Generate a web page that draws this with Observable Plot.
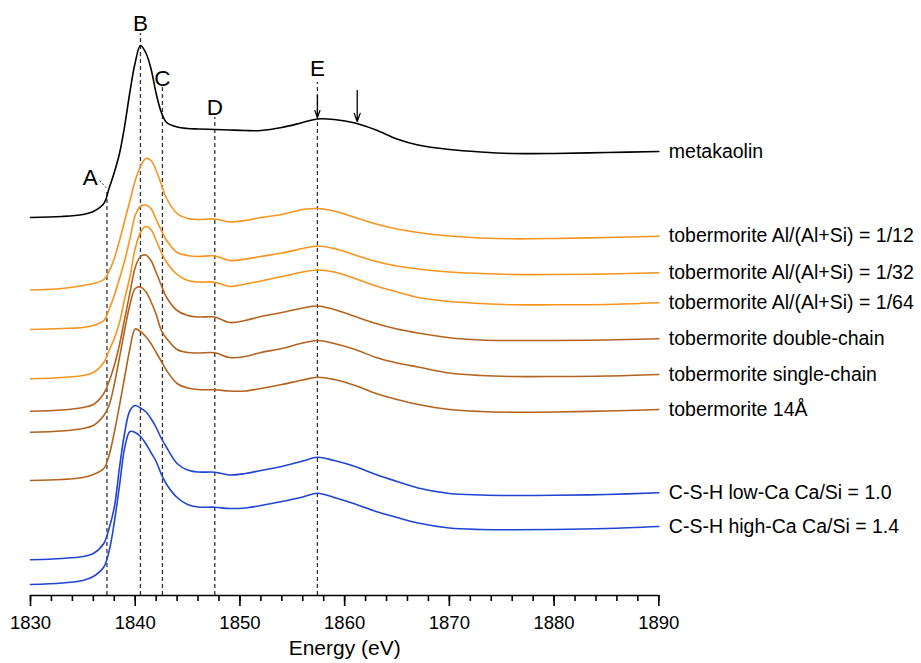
<!DOCTYPE html>
<html>
<head>
<meta charset="utf-8">
<script src="https://cdn.jsdelivr.net/npm/d3@7"></script>
<script src="https://cdn.jsdelivr.net/npm/@observablehq/plot@0.6"></script>
<style>
  html, body { margin: 0; padding: 0; background: #fff; }
</style>
</head>
<body>
<div id="chart"></div>
<script>
// Energy grid (eV)
const energies = [1830, 1833, 1835, 1836, 1837, 1837.5, 1838, 1838.5, 1839, 1839.5,
  1840, 1840.5, 1841, 1841.5, 1842, 1842.5, 1843, 1844, 1845, 1846,
  1847.6, 1849, 1850.5, 1852, 1854, 1856, 1857.4, 1859, 1861, 1863,
  1865, 1867, 1870, 1873, 1876, 1880, 1885, 1890];

// Series names (top to bottom)
const seriesNames = [
  "metakaolin",
  "tobermorite Al/(Al+Si) = 1/12",
  "tobermorite Al/(Al+Si) = 1/32",
  "tobermorite Al/(Al+Si) = 1/64",
  "tobermorite double-chain",
  "tobermorite single-chain",
  "tobermorite 14Å",
  "C-S-H low-Ca Ca/Si = 1.0",
  "C-S-H high-Ca Ca/Si = 1.4"
];

// Normalized absorbance (stacked with offsets)
const metakaolin = [3.78, 3.79, 3.81, 3.84, 3.92, 4.07, 4.23, 4.42, 4.70, 5.04,
  5.33, 5.50, 5.43, 5.27, 5.02, 4.83, 4.73, 4.685, 4.67, 4.665,
  4.66, 4.655, 4.65, 4.65, 4.68, 4.73, 4.765, 4.76, 4.725, 4.655,
  4.565, 4.505, 4.46, 4.435, 4.42, 4.42, 4.43, 4.44];
const tob12 = [3.055, 3.07, 3.10, 3.12, 3.16, 3.24, 3.37, 3.55, 3.75, 3.95,
  4.15, 4.29, 4.37, 4.35, 4.25, 4.11, 3.97, 3.82, 3.77, 3.76,
  3.765, 3.735, 3.75, 3.78, 3.81, 3.86, 3.87, 3.845, 3.78, 3.715,
  3.665, 3.63, 3.595, 3.575, 3.567, 3.57, 3.58, 3.593];
const tob32 = [2.66, 2.67, 2.68, 2.70, 2.75, 2.86, 3.00, 3.17, 3.35, 3.57,
  3.80, 3.89, 3.905, 3.87, 3.76, 3.65, 3.55, 3.43, 3.40, 3.39,
  3.395, 3.35, 3.365, 3.39, 3.425, 3.47, 3.495, 3.47, 3.405, 3.34,
  3.295, 3.265, 3.235, 3.22, 3.21, 3.21, 3.215, 3.227];
const tob64 = [2.167, 2.18, 2.20, 2.23, 2.33, 2.45, 2.57, 2.73, 2.97, 3.19,
  3.47, 3.63, 3.69, 3.66, 3.55, 3.43, 3.33, 3.21, 3.15, 3.135,
  3.133, 3.09, 3.115, 3.145, 3.19, 3.235, 3.255, 3.235, 3.17, 3.095,
  3.035, 2.98, 2.94, 2.92, 2.907, 2.907, 2.91, 2.927];
const tobDouble = [1.843, 1.855, 1.88, 1.91, 2.02, 2.14, 2.30, 2.51, 2.77, 3.03,
  3.28, 3.39, 3.405, 3.35, 3.23, 3.10, 2.98, 2.85, 2.80, 2.785,
  2.785, 2.73, 2.75, 2.79, 2.83, 2.875, 2.895, 2.86, 2.79, 2.72,
  2.665, 2.625, 2.577, 2.555, 2.55, 2.55, 2.555, 2.567];
const tobSingle = [1.633, 1.645, 1.67, 1.70, 1.80, 1.90, 2.11, 2.38, 2.66, 2.91,
  3.07, 3.085, 3.04, 2.94, 2.81, 2.65, 2.57, 2.46, 2.43, 2.425,
  2.427, 2.38, 2.39, 2.43, 2.47, 2.525, 2.55, 2.52, 2.46, 2.38,
  2.325, 2.285, 2.225, 2.20, 2.19, 2.19, 2.195, 2.21];
const tob14 = [1.15, 1.16, 1.18, 1.21, 1.27, 1.40, 1.63, 1.90, 2.19, 2.47,
  2.665, 2.64, 2.59, 2.52, 2.43, 2.34, 2.25, 2.12, 2.075, 2.06,
  2.057, 2.045, 2.045, 2.07, 2.11, 2.155, 2.183, 2.16, 2.10, 2.02,
  1.96, 1.91, 1.86, 1.84, 1.833, 1.835, 1.845, 1.86];
const cshLow = [0.357, 0.37, 0.39, 0.42, 0.52, 0.67, 0.88, 1.28, 1.63, 1.85,
  1.90, 1.875, 1.84, 1.77, 1.68, 1.57, 1.48, 1.32, 1.255, 1.235,
  1.233, 1.205, 1.22, 1.25, 1.29, 1.345, 1.383, 1.35, 1.29, 1.21,
  1.14, 1.075, 1.02, 1.005, 1.00, 1.002, 1.01, 1.027];
const cshHigh = [0.11, 0.125, 0.15, 0.19, 0.285, 0.44, 0.73, 1.10, 1.48, 1.64,
  1.63, 1.59, 1.52, 1.43, 1.34, 1.21, 1.11, 0.98, 0.91, 0.885,
  0.883, 0.87, 0.875, 0.90, 0.94, 0.985, 1.023, 0.98, 0.915, 0.84,
  0.78, 0.725, 0.675, 0.66, 0.657, 0.66, 0.67, 0.69];

const seriesValues = [metakaolin, tob12, tob32, tob64, tobDouble, tobSingle, tob14, cshLow, cshHigh];

// Feature markers
const featureNames = ["A", "B", "C", "D", "E"];
const featureEnergies = [1837.3, 1840.5, 1842.6, 1847.6, 1857.4];
const featureTops = [4.05, 5.62, 5.08, 4.78, 5.13];
const arrowEnergies = [1857.4, 1861.2];

// Tick values
const majorTicks = [1830, 1840, 1850, 1860, 1870, 1880, 1890];
const minorTicks = d3.range(1830, 1891, 2);

// Styles
const seriesColors = ["#000000", "#f7941d", "#f7941d", "#f7941d", "#b4631f", "#b4631f", "#b4631f", "#1f45d2", "#1f45d2"];
const font = "'Liberation Sans', Arial, Helvetica, sans-serif";

const table = seriesNames.flatMap((name, s) =>
  energies.map((e, i) => ({ series: name, energy: e, value: seriesValues[s][i] }))
);

const features = featureNames.map((n, i) => ({ name: n, energy: featureEnergies[i], top: featureTops[i] }));

// letter centre offsets (value units) above the top of each dashed line
const labelOffsets = { B: 0.10, C: 0.09, D: 0.10, E: 0.14 };

const chart = Plot.plot({
  width: 921,
  height: 663,
  marginLeft: 30,
  marginRight: 262.7,
  marginTop: 35,
  marginBottom: 68,
  style: { fontFamily: font, fontSize: "18px", background: "#fff", color: "#000", overflow: "visible" },
  x: { domain: [1830, 1890] },
  y: { domain: [0, 5.6], axis: null },
  color: { domain: seriesNames, range: seriesColors },
  marks: [
    // dashed feature lines
    Plot.ruleX(features, { x: "energy", y1: 0, y2: "top", stroke: "#333", strokeWidth: 1.3, strokeDasharray: "4,3" }),
    // axis line
    Plot.ruleY([0], { stroke: "#000", strokeWidth: 1.6 }),
    // minor ticks
    Plot.axisX({ ticks: minorTicks, tickSize: 6, tickFormat: () => "", label: null, strokeWidth: 1.6 }),
    // major ticks + labels
    Plot.axisX({ ticks: majorTicks, tickSize: 11, tickPadding: 9, tickFormat: d => String(d), label: null, strokeWidth: 1.6, fontSize: 18.5 }),
    Plot.text(["Energy (eV)"], { frameAnchor: "bottom", dy: 59, fontSize: 21 }),
    // spectra
    Plot.line(table, { x: "energy", y: "value", z: "series", stroke: "series", strokeWidth: 1.6, curve: "catmull-rom" }),
    // series labels at the end of each curve
    Plot.text(table, Plot.selectLast({ x: "energy", y: "value", z: "series", text: "series", dx: 10, textAnchor: "start", fontSize: 19.5, fill: "#000" })),
    // feature letters
    Plot.text(features.filter(d => d.name !== "A"), { x: "energy", y: d => d.top + labelOffsets[d.name], text: "name", fontSize: 22.5, lineAnchor: "middle" }),
    Plot.text(features.filter(d => d.name === "A"), { x: d => d.energy - 1.6, y: d => d.top + 0.13, text: "name", fontSize: 22.5, lineAnchor: "middle" }),
    // A leader
    Plot.link(features.filter(d => d.name === "A"), { x1: d => d.energy - 0.7, y1: d => d.top + 0.1, x2: d => d.energy, y2: d => d.top + 0.02, stroke: "#333", strokeWidth: 1, strokeDasharray: "2,2" }),
    // arrows
    Plot.arrow(arrowEnergies, { x1: d => d, x2: d => d, y1: (d, i) => i === 0 ? 5.0 : 5.05, y2: (d, i) => i === 0 ? 4.78 : 4.74, stroke: "#000", strokeWidth: 1.3, headLength: 10, headAngle: 40 })
  ]
});

document.getElementById("chart").appendChild(chart);
</script>
</body>
</html>
